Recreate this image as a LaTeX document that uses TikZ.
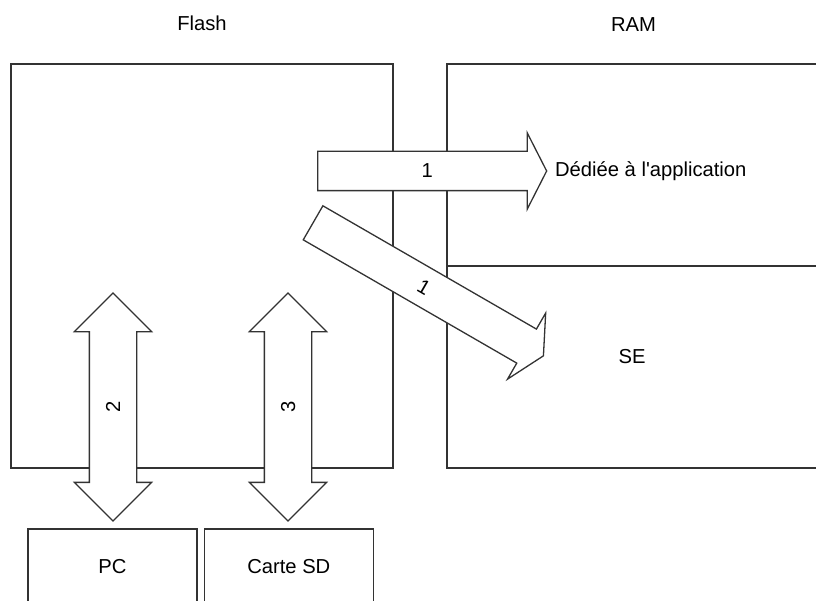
\documentclass[tikz,border=0pt]{standalone}
\usepackage{fontspec}
\setmainfont{Liberation Sans}[Ligatures=TeXOff]
\usetikzlibrary{shapes.arrows, positioning}
\tikzstyle{memo} = [rectangle, draw=black!80, line width=1.3pt, inner sep=0pt]
\tikzstyle{device} = [rectangle, draw=black!80, line width=1.3pt, minimum width=169pt, minimum height=76pt, text centered]
\tikzstyle{flow} = [single arrow, draw=black!80, line width=1.3pt, fill=white, inner xsep=0pt, inner ysep=12pt, text height=14pt, text depth=0pt, minimum width=75pt, single arrow head extend=18.5pt, single arrow tip angle=126]
\tikzstyle{exchange} = [double arrow, draw=black!80, line width=1.3pt, fill=white, inner xsep=0pt, inner ysep=16pt, text height=14pt, text depth=0pt, minimum width=76pt, double arrow head extend=15pt, double arrow tip angle=90, minimum height=228pt]
\tikzstyle{txt} = [inner sep=0pt]

\begin{document}
\begin{tikzpicture}[x=1pt, y=-1pt, font=\fontsize{20.2}{24}\selectfont]
    \useasboundingbox (0,0) rectangle (816,601);
    \clip (0,0) rectangle (816,601);

    % Memoires
    \node (flash) [memo, minimum width=382pt, minimum height=404pt] at (202,266) {};
    \node (app) [memo, minimum width=373pt, minimum height=202pt] at (633.5,165) {};
    \node (se) [memo, minimum width=373pt, minimum height=202pt] at (633.5,367) {};
    \node (tflash) [txt, above=32pt of flash] {Flash};
    \node (tram) [txt, above=32pt of app] {RAM};
    \node (tse) [txt] at (632,357) {SE};

    % Peripheriques
    \node (pc) [device] at (112.5,567) {PC};
    \node (sd) [device, right=6pt of pc] {Carte SD};

    % Chargement en RAM
    \node (flow1) [flow, minimum height=229pt, anchor=tail] at (317,171) {1};
    \node (flow2) [flow, minimum height=266pt, rotate=-30, anchor=tail] at (312.5,222.5) {1};
    \node (tapp) [txt, anchor=west, right=7.5pt of flow1.tip] {Dédiée à l'application};

    % Echanges
    \node (link2) [exchange, rotate=90] at (113,407) {2};
    \node (link3) [exchange, rotate=90] at (288,407) {3};
\end{tikzpicture}
\end{document}
